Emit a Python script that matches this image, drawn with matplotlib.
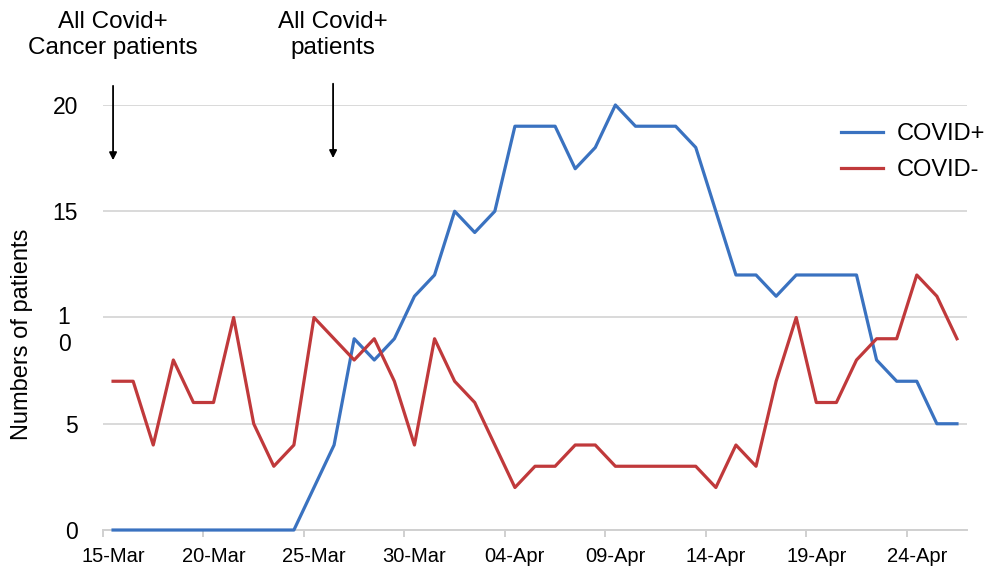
import numpy as np
import matplotlib
matplotlib.use('Agg')
from matplotlib import pyplot as plt
from matplotlib import transforms

# ---------------------------------------------- #
# Data (daily counts, 15-Mar to 26-Apr)
# ---------------------------------------------- #
days = ['15-Mar', '16-Mar', '17-Mar', '18-Mar', '19-Mar', '20-Mar', '21-Mar', '22-Mar',
        '23-Mar', '24-Mar', '25-Mar', '26-Mar', '27-Mar', '28-Mar', '29-Mar', '30-Mar',
        '31-Mar', '01-Apr', '02-Apr', '03-Apr', '04-Apr', '05-Apr', '06-Apr', '07-Apr',
        '08-Apr', '09-Apr', '10-Apr', '11-Apr', '12-Apr', '13-Apr', '14-Apr', '15-Apr',
        '16-Apr', '17-Apr', '18-Apr', '19-Apr', '20-Apr', '21-Apr', '22-Apr', '23-Apr',
        '24-Apr', '25-Apr', '26-Apr']
covid_pos = [0, 0, 0, 0, 0, 0, 0, 0, 0, 0,
             2, 4, 9, 8, 9, 11, 12, 15, 14, 15,
             19, 19, 19, 17, 18, 20, 19, 19, 19, 18,
             15, 12, 12, 11, 12, 12, 12, 12, 8, 7,
             7, 5, 5]
covid_neg = [7, 7, 4, 8, 6, 6, 10, 5, 3, 4,
             10, 9, 8, 9, 7, 4, 9, 7, 6, 4,
             2, 3, 3, 4, 4, 3, 3, 3, 3, 3,
             2, 4, 3, 7, 10, 6, 6, 8, 9, 9,
             12, 11, 9]
ytick_vals = [0, 5, 10, 15, 20]
ytick_text = ['0', '5', '1\n0', '15', '20']
label_every = 5

plt.rcParams['font.family'] = ['Liberation Sans', 'DejaVu Sans']

# ---------------------------------------------- #
# Plot
# ---------------------------------------------- #
fig = plt.figure(figsize=(10.05, 5.79), dpi=100)
ax = fig.add_axes([0.1025, 0.0846, 0.8597, 0.7341])

x = np.arange(len(days))
ax.plot(x, covid_pos, color='#3a72c0', lw=2.3, label='COVID+', clip_on=False, zorder=3)
ax.plot(x, covid_neg, color='#c0393b', lw=2.3, label='COVID-', clip_on=False, zorder=3)

ax.set_xlim(-0.5, len(days) - 0.5)
ax.set_ylim(0, 20)

# y axis
ax.set_yticks(ytick_vals)
ax.set_yticklabels(ytick_text, fontsize=16.5)
ax.tick_params(axis='y', length=0, pad=18)
lab10 = ax.get_yticklabels()[2]
lab10.set_verticalalignment('top')
lab10.set_horizontalalignment('center')
lab10.set_transform(lab10.get_transform() +
                    transforms.ScaledTranslation(-14 / 100, 11 / 100, fig.dpi_scale_trans))
ax.grid(axis='y', color='#d9d9d9', lw=1.4)
ax.set_axisbelow(True)

# x axis: labels on categories, tick marks between them
lab_idx = x[::label_every]
ax.set_xticks(lab_idx)
ax.set_xticklabels([days[i] for i in lab_idx], fontsize=14.5)
ax.tick_params(axis='x', which='major', length=0, pad=12)
ax.set_xticks(np.arange(-0.5, len(days) - 0.5, label_every), minor=True)
ax.tick_params(axis='x', which='minor', length=5, width=1.4, color='#d0d0d0')

for s in ['top', 'right', 'left']:
    ax.spines[s].set_visible(False)
ax.spines['bottom'].set_color('#d0d0d0')
ax.spines['bottom'].set_linewidth(1.4)

fig.text(22 / 1005, 1 - 334 / 579, 'Numbers of patients', rotation=90,
         ha='center', va='center', fontsize=17)

# annotations
arrow = dict(arrowstyle='-|>', color='black', lw=1.3, mutation_scale=11, shrinkA=0, shrinkB=0)
ax.annotate('', xy=(0, 17.4), xytext=(0, 20.9), arrowprops=arrow, annotation_clip=False)
ax.annotate('', xy=(10.95, 17.5), xytext=(10.95, 21.0), arrowprops=arrow, annotation_clip=False)
ax.text(0, 23.3, 'All Covid+\nCancer patients', ha='center', va='center',
        fontsize=17.5, linespacing=1.25)
ax.text(10.95, 23.3, 'All Covid+\npatients', ha='center', va='center',
        fontsize=17.5, linespacing=1.25)

ax.legend(loc='center left', bbox_to_anchor=(820 / 1005, 1 - 152 / 579),
          bbox_transform=fig.transFigure, frameon=False, fontsize=17,
          handlelength=1.75, handletextpad=0.6, labelspacing=0.6)

plt.savefig('out.png', dpi=100)
